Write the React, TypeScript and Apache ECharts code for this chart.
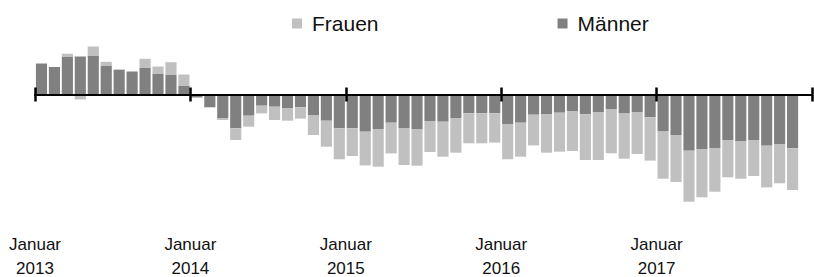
import React, { useEffect, useRef } from "react";
import * as echarts from "echarts";

const years = [2013, 2014, 2015, 2016, 2017];
const monthNames = ["01", "02", "03", "04", "05", "06", "07", "08", "09", "10", "11", "12"];
const categories: string[] = [];
years.forEach((y) => monthNames.forEach((m) => categories.push(`${y}-${m}`)));

const maenner: (number | null)[] = [
  31, 27.5, 38, 38, 39, 29, 24.5, 23, 27, 21, 20, 9,
  -3, -12.8, -23.5, -33.8, -21.2, -11.2, -12.2, -13.5, -12.8, -20.5, -26.2, -33.8,
  -33.8, -37.2, -34.5, -28.2, -33.5, -34.5, -26.5, -27.2, -23.5, -18.8, -18.8, -18.8,
  -29.5, -28.2, -20.2, -19.5, -18.2, -16.5, -19.8, -17.5, -14.5, -18.5, -17.5, -22.8,
  -36.5, -40.5, -56.2, -54.5, -53.5, -45.5, -46.5, -45.5, -51.2, -49.5, -53.8, null,
];

const frauen: (number | null)[] = [
  0.5, 0, 2.7, -5, 9, 3.7, 0.7, 0, 8.7, 7, 12.3, 11,
  0, 0, -2, -11.7, -11, -7.7, -13.3, -12.7, -11.3, -20, -26, -31,
  -27.7, -33.7, -37.7, -30.7, -37, -36.7, -31, -35, -34.7, -30, -30, -29.3,
  -35.3, -34, -30.7, -38.7, -39, -40, -45.7, -48, -44.3, -45.7, -42, -43.3,
  -47.7, -47, -51, -48.3, -43.7, -37.3, -37.7, -36, -41.7, -39.3, -41.7, null,
];

const tickLabelTop = "Januar";
const tickYears = [2013, 2014, 2015, 2016, 2017];

export default function App() {
  const ref = useRef<HTMLDivElement>(null);
  useEffect(() => {
    if (!ref.current) return;
    const chart = echarts.init(ref.current, null, { renderer: "svg" });
    const n = categories.length;
    const lineAxisBase = {
      type: "value",
      min: 0,
      max: n,
      interval: 12,
      position: "bottom",
      z: 10,
      axisLabel: { show: false },
      splitLine: { show: false },
    };
    chart.setOption({
      animation: false,
      legend: {
        data: ["Frauen", "Männer"],
        left: 287,
        top: 8,
        icon: "rect",
        itemWidth: 10,
        itemHeight: 10,
        itemGap: 179,
        textStyle: {
          fontFamily: "Liberation Sans, Arial, sans-serif",
          fontSize: 21,
          color: "#111",
          padding: [0, 0, 0, 5],
        },
      },
      grid: { left: 35, right: 2, top: 24.5, height: 190, outerBoundsMode: "none", containLabel: false },
      yAxis: [
        { type: "value", min: -120, max: 70, show: false },
        { type: "value", min: -120, max: 70, show: false },
      ],
      xAxis: [
        {
          type: "category",
          data: categories,
          position: "top",
          show: false,
          axisLine: { onZero: false },
        },
        {
          type: "value",
          min: 0,
          max: n,
          interval: 12,
          position: "bottom",
          axisLine: { show: false, onZero: false },
          axisTick: { show: false },
          splitLine: { show: false },
          axisLabel: {
            margin: 17.5,
            fontFamily: "Liberation Sans Narrow, Arial Narrow, Liberation Sans, sans-serif",
            fontSize: 17,
            lineHeight: 24,
            color: "#111",
            formatter: (v: number) => {
              const i = Math.round(v / 12);
              return i < tickYears.length ? `${tickLabelTop}\n${tickYears[i]}` : "";
            },
          },
        },
        {
          ...lineAxisBase,
          axisLine: { show: true, onZero: true, lineStyle: { color: "#000", width: 2 } },
          axisTick: { show: true, inside: false, length: 7, lineStyle: { color: "#000", width: 2.5 } },
        },
        {
          ...lineAxisBase,
          axisLine: { show: true, onZero: true, lineStyle: { color: "#000", width: 2 } },
          axisTick: { show: true, inside: true, length: 7, lineStyle: { color: "#000", width: 2.5 } },
        },
      ],
      series: [
        {
          name: "Männer",
          type: "bar",
          stack: "total",
          data: maenner,
          barCategoryGap: "14%",
          itemStyle: { color: "#808080" },
        },
        {
          name: "Frauen",
          type: "bar",
          stack: "total",
          data: frauen,
          barCategoryGap: "14%",
          itemStyle: { color: "#c0c0c0" },
        },
      ],
    });
    return () => chart.dispose();
  }, []);
  return <div ref={ref} style={{ width: 814, height: 277, position: "absolute", left: 0, top: 0 }} />;
}
